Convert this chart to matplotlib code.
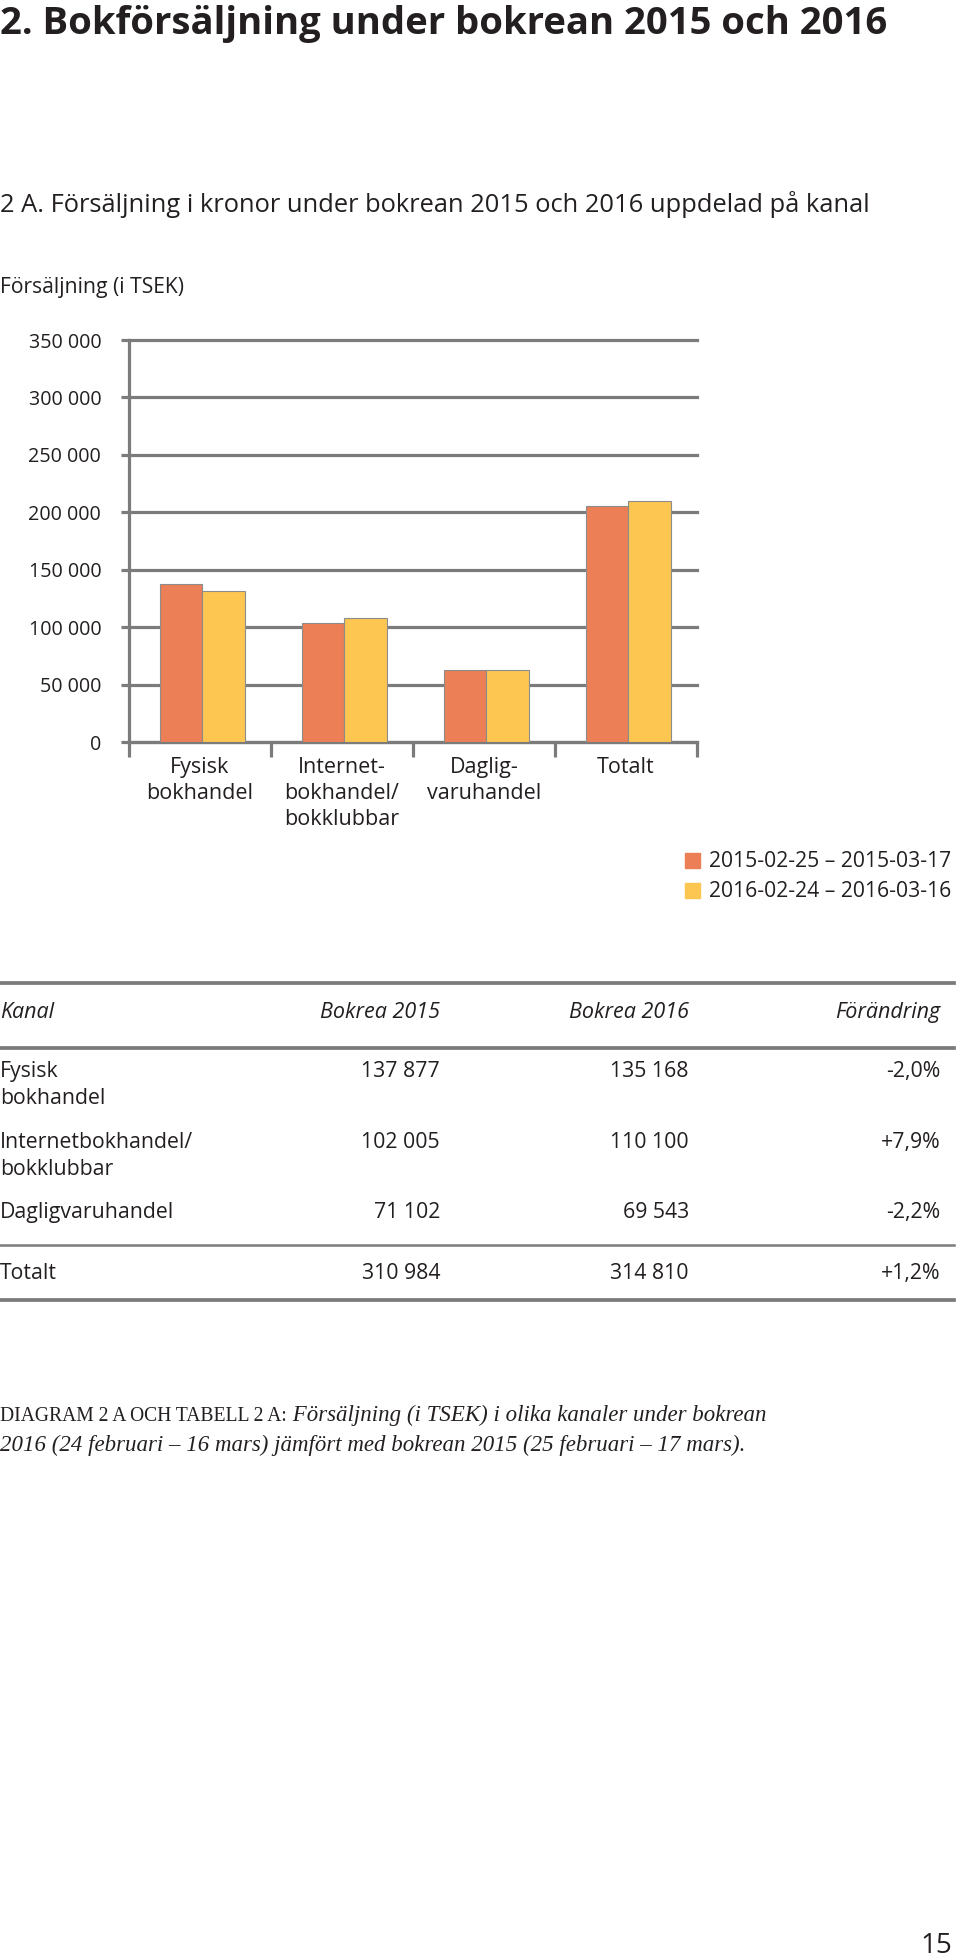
import matplotlib.pyplot as plt
from matplotlib.patches import Rectangle

SANS = "Open Sans"
SERIF = "Liberation Serif"
plt.rcParams["font.family"] = [SANS, "DejaVu Sans"]

# ---- data ----
title = "2. Bokförsäljning under bokrean 2015 och 2016"
subtitle = "2 A. Försäljning i kronor under bokrean 2015 och 2016 uppdelad på kanal"
y_title = "Försäljning (i TSEK)"

categories = ["Fysisk\nbokhandel", "Internet-\nbokhandel/\nbokklubbar", "Daglig-\nvaruhandel", "Totalt"]
# bar heights as drawn in the chart
bars_2015 = [137500, 103800, 62300, 205900]
bars_2016 = [131200, 107900, 62300, 210000]
series_names = ["2015-02-25 – 2015-03-17", "2016-02-24 – 2016-03-16"]
y_ticks = [0, 50000, 100000, 150000, 200000, 250000, 300000, 350000]

table_header = ["Kanal", "Bokrea 2015", "Bokrea 2016", "Förändring"]
table_channels = ["Fysisk\nbokhandel", "Internetbokhandel/\nbokklubbar", "Dagligvaruhandel", "Totalt"]
table_2015 = [137877, 102005, 71102, 310984]
table_2016 = [135168, 110100, 69543, 314810]
table_change = [-2.0, 7.9, -2.2, 1.2]

caption_lead = "DIAGRAM 2 A OCH TABELL 2 A:"
caption_1 = " Försäljning (i TSEK) i olika kanaler under bokrean"
caption_2 = "2016 (24 februari – 16 mars) jämfört med bokrean 2015 (25 februari – 17 mars)."
page_no = "15"

TXT = "#231f20"
GRAY = "#7b7b7b"
ORANGE = "#EC7F55"
YELLOW = "#FDC651"


def sek(v):
    return f"{v:,}".replace(",", " ")


fig = plt.figure(figsize=(9.6, 19.6), dpi=100)

# page overlay in pixel coordinates for the free text and the table
page = fig.add_axes([0, 0, 1, 1])
page.set_xlim(0, 960)
page.set_ylim(1960, 0)
page.axis("off")

page.text(0, 24, title, fontsize=27.5, fontweight="bold", color=TXT, va="center")
page.text(0, 205, subtitle, fontsize=18.4, color=TXT, va="center")
page.text(0, 287, y_title, fontsize=15.2, color=TXT, va="center")

# ---- bar chart ----
ax = fig.add_axes([129 / 960, 1 - 742 / 1960, (697 - 129) / 960, 402 / 1960])
ax.patch.set_visible(False)
x = list(range(len(categories)))
ax.bar([i - 0.135 for i in x], bars_2015, width=0.3, color=ORANGE,
       edgecolor="#8c8c8c", linewidth=0.8, zorder=3)
ax.bar([i + 0.165 for i in x], bars_2016, width=0.3, color=YELLOW,
       edgecolor="#8c8c8c", linewidth=0.8, zorder=3)
for t in y_ticks:
    ax.axhline(t, color=GRAY, lw=2.3, zorder=1, clip_on=False)
ax.set_xlim(-0.5, 3.5)
ax.set_ylim(0, 350000)
ax.set_yticks(y_ticks)
ax.set_yticklabels([sek(t) for t in y_ticks], fontsize=14.2, color=TXT)
ax.tick_params(axis="y", length=6, width=2.3, color=GRAY, pad=14)
ax.set_xticks([-0.5, 0.5, 1.5, 2.5, 3.5])
ax.set_xticklabels([])
ax.tick_params(axis="x", which="major", length=11, width=2.3, color=GRAY, direction="out")
ax.set_xticks(x, minor=True)
ax.set_xticklabels(categories, minor=True, fontsize=15.5, color=TXT, linespacing=1.3)
ax.tick_params(axis="x", which="minor", length=0, pad=11)
for s in ["top", "right"]:
    ax.spines[s].set_visible(False)
for s in ["left", "bottom"]:
    ax.spines[s].set_color(GRAY)
    ax.spines[s].set_linewidth(2.3)

# legend
for k, (name, col) in enumerate(zip(series_names, [ORANGE, YELLOW])):
    yc = 861 + 30 * k
    page.add_patch(Rectangle((685, yc - 8), 15, 15, color=col))
    page.text(709, yc, name, fontsize=15.2, color=TXT, va="center")

# ---- table ----
col_right = [440, 689, 940]
page.plot([0, 954], [983, 983], color=GRAY, lw=2.7)
page.plot([0, 954], [1048, 1048], color=GRAY, lw=2.7)
page.plot([0, 954], [1245, 1245], color=GRAY, lw=1.8)
page.plot([0, 954], [1300, 1300], color=GRAY, lw=2.7)

page.text(0, 1012, table_header[0], fontsize=15.5, style="italic", color=TXT, va="center")
for h, xr in zip(table_header[1:], col_right):
    page.text(xr, 1012, h, fontsize=15.5, style="italic", color=TXT, va="center", ha="right")

row_y = [1071, 1142, 1212, 1273]
for name, a, b, c, yr in zip(table_channels, table_2015, table_2016, table_change, row_y):
    for j, line in enumerate(name.split("\n")):
        page.text(0, yr + 27 * j, line, fontsize=15.3, color=TXT, va="center")
    chg = f"{c:+.1f}%".replace(".", ",")
    for val, xr in zip([sek(a), sek(b), chg], col_right):
        page.text(xr, yr, val, fontsize=15.3, color=TXT, va="center", ha="right")

# ---- caption ----
lead = page.text(0, 1421, caption_lead, fontsize=14.1, family=SERIF, color=TXT, va="baseline")
fig.canvas.draw()
bb = lead.get_window_extent(renderer=fig.canvas.get_renderer())
page.text(bb.x1, 1421, caption_1, fontsize=16.5, family=SERIF, style="italic",
          color=TXT, va="baseline")
page.text(0, 1451, caption_2, fontsize=16.5, family=SERIF, style="italic",
          color=TXT, va="baseline")

page.text(952, 1946, page_no, fontsize=20, color=TXT, va="center", ha="right")

fig.savefig("out.png", dpi=100)
